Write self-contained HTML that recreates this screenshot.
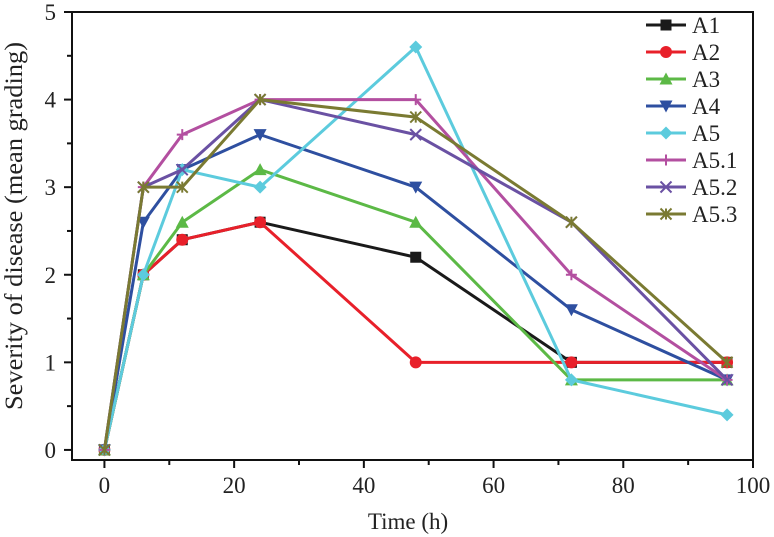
<!DOCTYPE html>
<html><head><meta charset="utf-8"><style>
html,body{margin:0;padding:0;background:#fff;}
svg{display:block;font-family:"Liberation Serif","Times New Roman",serif;}
</style></head><body>
<svg id="chart" width="774" height="537" viewBox="0 0 774 537"></svg>
<script>
const times = [0, 6, 12, 24, 48, 72, 96];
const seriesNames = ["A1","A2","A3","A4","A5","A5.1","A5.2","A5.3"];
const A1 = [0, 2, 2.4, 2.6, 2.2, 1, 1];
const A2 = [0, 2, 2.4, 2.6, 1, 1, 1];
const A3 = [0, 2, 2.6, 3.2, 2.6, 0.8, 0.8];
const A4 = [0, 2.6, 3.2, 3.6, 3, 1.6, 0.8];
const A5 = [0, 2, 3.2, 3, 4.6, 0.8, 0.4];
const A51 = [0, 3, 3.6, 4, 4, 2, 0.8];
const A52 = [0, 3, 3.2, 4, 3.6, 2.6, 0.8];
const A53 = [0, 3, 3, 4, 3.8, 2.6, 1];
const xTicks = [0, 20, 40, 60, 80, 100];
const yTicks = [0, 1, 2, 3, 4, 5];

const svg = document.getElementById('chart');
const NS = 'http://www.w3.org/2000/svg';
const L = 72, R = 753, T = 12, B = 460;
const xMin = -5, xMax = 100, yMin = -0.115, yMax = 5;
const sx = v => L + (v - xMin) / (xMax - xMin) * (R - L);
const sy = v => B - (v - yMin) / (yMax - yMin) * (B - T);
function mk(tag, attrs, parent) {
  const e = document.createElementNS(NS, tag);
  for (const k in attrs) e.setAttribute(k, attrs[k]);
  (parent || svg).appendChild(e);
  return e;
}
const colors = ["#1a1a1a","#e8202a","#5cb946","#2e4fa0","#5ccbdd","#b34fa0","#6a51a3","#7a7a32"];
const markers = ["square","circle","tri","tridown","diamond","plus","x","star"];
const data = [A1, A2, A3, A4, A5, A51, A52, A53];

function marker(g, type, x, y, c) {
  const s = 5.5;
  let e;
  if (type === 'square') e = mk('rect', {x: x - s, y: y - s, width: 2 * s, height: 2 * s, fill: c}, g);
  else if (type === 'circle') e = mk('circle', {cx: x, cy: y, r: s + 0.5, fill: c}, g);
  else if (type === 'tri') e = mk('polygon', {points: `${x},${y - s - 1} ${x - s - 1},${y + s} ${x + s + 1},${y + s}`, fill: c}, g);
  else if (type === 'tridown') e = mk('polygon', {points: `${x},${y + s + 1} ${x - s - 1},${y - s} ${x + s + 1},${y - s}`, fill: c}, g);
  else if (type === 'diamond') e = mk('polygon', {points: `${x},${y - s - 1} ${x + s + 1},${y} ${x},${y + s + 1} ${x - s - 1},${y}`, fill: c}, g);
  else if (type === 'plus') e = mk('path', {d: `M${x - s},${y}H${x + s}M${x},${y - s}V${y + s}`, stroke: c, 'stroke-width': 2}, g);
  else if (type === 'x') e = mk('path', {d: `M${x - s},${y - s}L${x + s},${y + s}M${x - s},${y + s}L${x + s},${y - s}`, stroke: c, 'stroke-width': 2}, g);
  else e = mk('path', {d: `M${x - s},${y - s}L${x + s},${y + s}M${x - s},${y + s}L${x + s},${y - s}M${x},${y - s}V${y + s}`, stroke: c, 'stroke-width': 2}, g);
  return e;
}

data.forEach((vals, i) => {
  const g = mk('g', {});
  
  
  const pts = times.map((t, j) => sx(t) + ',' + sy(vals[j])).join(' ');
  const pl = mk('polyline', {points: pts, fill: 'none', stroke: colors[i], 'stroke-width': 3, 'stroke-linejoin': 'round'}, g);
  
  
  times.forEach((t, j) => {
    const m = marker(g, markers[i], sx(t), sy(vals[j]), colors[i]);
    
    
  });
});

const frame = mk('rect', {x: L, y: T, width: R - L, height: B - T, fill: 'none', stroke: '#111', 'stroke-width': 2});



xTicks.forEach(v => {
  const x = sx(v);
  const t = mk('line', {x1: x, y1: B, x2: x, y2: B + 8, stroke: '#111', 'stroke-width': 2});
  
  
  const lb = mk('text', {x: x, y: B + 33, 'text-anchor': 'middle', 'font-size': 23, fill: '#222'});
  lb.textContent = v;
  
  
  if (v < 100) {
    const m = mk('line', {x1: sx(v + 10), y1: B, x2: sx(v + 10), y2: B + 5, stroke: '#111', 'stroke-width': 2});
    
    
  }
});
yTicks.forEach(v => {
  const y = sy(v);
  const t = mk('line', {x1: L - 8, y1: y, x2: L, y2: y, stroke: '#111', 'stroke-width': 2});
  
  
  const lb = mk('text', {x: L - 16, y: y + 8, 'text-anchor': 'end', 'font-size': 23, fill: '#222'});
  lb.textContent = v;
  
  
  if (v < 5) {
    const m = mk('line', {x1: L - 5, y1: sy(v + 0.5), x2: L, y2: sy(v + 0.5), stroke: '#111', 'stroke-width': 2});
    
    
  }
});

const xt = mk('text', {x: 408, y: 529, 'text-anchor': 'middle', 'font-size': 23, fill: '#222'});
xt.textContent = 'Time (h)';


const yt = mk('text', {x: 0, y: 0, 'text-anchor': 'middle', 'font-size': 25, 'textLength': 368, 'lengthAdjust': 'spacingAndGlyphs', fill: '#222', transform: 'translate(22,226) rotate(-90)'});
yt.textContent = 'Severity of disease (mean grading)';



const lg = mk('g', {});


seriesNames.forEach((n, i) => {
  const y = 25 + i * 27;
  const g = mk('g', {}, lg);
  
  
  mk('line', {x1: 646, y1: y, x2: 686, y2: y, stroke: colors[i], 'stroke-width': 3}, g);
  marker(g, markers[i], 666, y, colors[i]);
  const tx = mk('text', {x: 692, y: y + 8, 'font-size': 23, fill: '#222'}, g);
  tx.textContent = n;
});
</script>
</body></html>
